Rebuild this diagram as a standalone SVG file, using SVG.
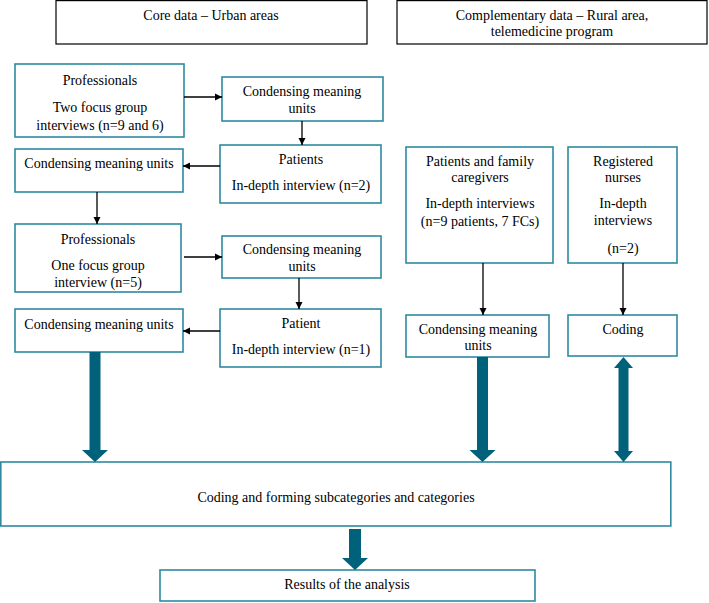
<svg xmlns="http://www.w3.org/2000/svg" width="709" height="603" viewBox="0 0 709 603">
<defs>
<style>
.hb{fill:#fff;stroke:#000;stroke-width:1.2}
.b{fill:#fff;stroke:#2f8aa0;stroke-width:1.6}
.c{stroke:#000;stroke-width:1.3;fill:none;marker-end:url(#ah)}
.big{fill:#00617a}
</style>
<marker id="ah" markerWidth="8" markerHeight="8" refX="7" refY="4" orient="auto" markerUnits="userSpaceOnUse">
<path d="M0,0.5 L7,4 L0,7.5 Z" fill="#000"/>
</marker>
</defs>
<rect width="709" height="603" fill="#fff"/>
<g font-family="Liberation Serif, DejaVu Serif, serif" font-size="14" fill="#000" text-anchor="middle">
<g id="core-header"><rect class="hb" x="56" y="0.6" width="311" height="43.4"/><text x="211" y="20">Core data – Urban areas</text></g>
<g id="comp-header"><rect class="hb" x="397" y="0.6" width="310" height="43.4"/><text x="552" y="20">Complementary data – Rural area,</text><text x="552" y="36">telemedicine program</text></g>

<g id="prof1"><rect class="b" x="15" y="64" width="169" height="73"/><text x="100" y="85">Professionals</text><text x="100" y="112">Two focus group</text><text x="100" y="130">interviews (n=9 and 6)</text></g>
<g id="cmu1"><rect class="b" x="222" y="77" width="161" height="44"/><text x="302" y="96">Condensing meaning</text><text x="302" y="113">units</text></g>
<g id="patients1"><rect class="b" x="220" y="145" width="161" height="58"/><text x="301" y="164">Patients</text><text x="301" y="190">In-depth interview (n=2)</text></g>
<g id="cmu2"><rect class="b" x="15" y="149" width="168" height="43"/><text x="99" y="168">Condensing meaning units</text></g>
<g id="prof2"><rect class="b" x="15" y="224" width="166" height="68"/><text x="98" y="244">Professionals</text><text x="98" y="270">One focus group</text><text x="98" y="287">interview (n=5)</text></g>
<g id="cmu3"><rect class="b" x="222" y="236" width="159" height="42"/><text x="302" y="254">Condensing meaning</text><text x="302" y="271">units</text></g>
<g id="patient2"><rect class="b" x="220" y="309" width="161" height="58"/><text x="301" y="328">Patient</text><text x="301" y="354">In-depth interview (n=1)</text></g>
<g id="cmu4"><rect class="b" x="15" y="309" width="168" height="43"/><text x="99" y="329">Condensing meaning units</text></g>

<g id="pfc"><rect class="b" x="406" y="147" width="147" height="116"/><text x="480" y="166">Patients and family</text><text x="480" y="182">caregivers</text><text x="480" y="208">In-depth interviews</text><text x="480" y="226">(n=9 patients, 7 FCs)</text></g>
<g id="rn"><rect class="b" x="568" y="147" width="109" height="116"/><text x="623" y="166">Registered</text><text x="623" y="182">nurses</text><text x="623" y="208">In-depth</text><text x="623" y="225">interviews</text><text x="623" y="253">(n=2)</text></g>
<g id="cmu5"><rect class="b" x="406" y="315" width="143" height="42"/><text x="478" y="334">Condensing meaning</text><text x="478" y="350">units</text></g>
<g id="coding"><rect class="b" x="568" y="315" width="109" height="41"/><text x="623" y="334">Coding</text></g>

<g id="analysis"><rect class="b" x="0.8" y="462" width="670" height="64"/><text x="336" y="502">Coding and forming subcategories and categories</text></g>
<g id="results"><rect class="b" x="160" y="570" width="375" height="31"/><text x="347" y="589">Results of the analysis</text></g>
</g>
<g id="connectors">
<line class="c" x1="184" y1="97" x2="222" y2="97"/>
<line class="c" x1="302" y1="121" x2="302" y2="145"/>
<line class="c" x1="220" y1="166" x2="183" y2="166"/>
<line class="c" x1="97" y1="192" x2="97" y2="224"/>
<line class="c" x1="184" y1="257" x2="222" y2="257"/>
<line class="c" x1="299" y1="278" x2="299" y2="309"/>
<line class="c" x1="220" y1="331" x2="183" y2="331"/>
<line class="c" x1="483" y1="263" x2="483" y2="315"/>
<line class="c" x1="623" y1="263" x2="623" y2="315"/>
<path class="big" d="M89.5,352 H100.5 V450 H108 L95,462 L82,450 H89.5 Z"/>
<path class="big" d="M477,357 H488 V450 H495.5 L482.5,462 L469.5,450 H477 Z"/>
<path class="big" d="M623.5,357 L633,368 H628.5 V451 H633 L623.5,462 L614,451 H618.5 V368 H614 Z"/>
<path class="big" d="M349,529 H361 V558 H368 L355,570 L342,558 H349 Z"/>
</g>
</svg>
